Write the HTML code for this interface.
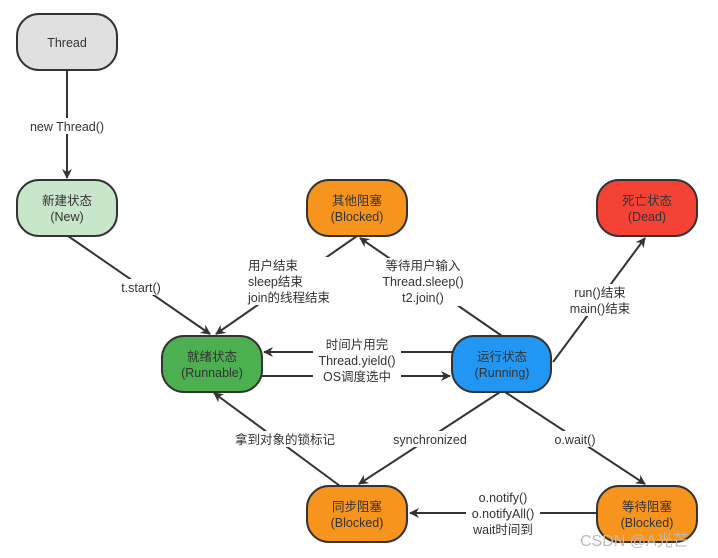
<!DOCTYPE html>
<html><head><meta charset="utf-8"><style>
body{margin:0;background:#fff}
svg{display:block}
text{font-family:"Liberation Sans","Noto Sans CJK SC",sans-serif;font-size:12.5px;fill:#333}
</style></head><body>
<svg width="718" height="558" viewBox="0 0 718 558" xmlns="http://www.w3.org/2000/svg">
<defs><marker id="a" markerWidth="10" markerHeight="10" refX="9" refY="5" orient="auto" markerUnits="userSpaceOnUse"><path d="M0,0 L10,5 L0,10 L3,5 z" fill="#333"/></marker></defs>
<g stroke="#333" stroke-width="2" fill="none">
<line x1="67" y1="70" x2="67" y2="178" marker-end="url(#a)"/>
<line x1="68" y1="236" x2="210" y2="334" marker-end="url(#a)"/>
<line x1="357" y1="236" x2="216" y2="334" marker-end="url(#a)"/>
<line x1="502" y1="336" x2="360" y2="238" marker-end="url(#a)"/>
<line x1="553" y1="362" x2="645" y2="238" marker-end="url(#a)"/>
<line x1="452" y1="352" x2="264" y2="352" marker-end="url(#a)"/>
<line x1="262" y1="376" x2="450" y2="376" marker-end="url(#a)"/>
<line x1="500" y1="392" x2="359" y2="484" marker-end="url(#a)"/>
<line x1="505" y1="392" x2="645" y2="484" marker-end="url(#a)"/>
<line x1="340" y1="486" x2="214" y2="393" marker-end="url(#a)"/>
<line x1="597" y1="513" x2="410" y2="513" marker-end="url(#a)"/>
</g>
<g fill="#fff">
<rect x="25" y="118" width="86" height="16"/>
<rect x="115" y="279" width="52" height="16"/>
<rect x="245" y="257" width="92" height="48"/>
<rect x="378" y="258" width="90" height="48"/>
<rect x="568" y="284" width="66" height="32"/>
<rect x="313" y="336" width="88" height="48"/>
<rect x="230" y="431" width="110" height="16"/>
<rect x="388" y="431" width="84" height="16"/>
<rect x="550" y="431" width="50" height="16"/>
<rect x="466" y="489" width="74" height="48"/>
</g>
<g stroke="#333" stroke-width="2">
<rect x="17" y="14" width="100" height="56" rx="22" fill="#e0e0e0"/>
<rect x="17" y="180" width="100" height="56" rx="22" fill="#c8e6c9"/>
<rect x="307" y="180" width="100" height="56" rx="22" fill="#f7941d"/>
<rect x="597" y="180" width="100" height="56" rx="22" fill="#f44336"/>
<rect x="162" y="336" width="100" height="56" rx="22" fill="#4caf50"/>
<rect x="452" y="336" width="99" height="56" rx="22" fill="#2196f3"/>
<rect x="307" y="486" width="100" height="56" rx="22" fill="#f7941d"/>
<rect x="597" y="486" width="100" height="56" rx="22" fill="#f7941d"/>
</g>
<g text-anchor="middle">
<text x="67" y="47">Thread</text>
<text x="67" y="205">新建状态</text><text x="67" y="221">(New)</text>
<text x="357" y="205">其他阻塞</text><text x="357" y="221">(Blocked)</text>
<text x="647" y="205">死亡状态</text><text x="647" y="221">(Dead)</text>
<text x="212" y="361">就绪状态</text><text x="212" y="377">(Runnable)</text>
<text x="502" y="361">运行状态</text><text x="502" y="377">(Running)</text>
<text x="357" y="511">同步阻塞</text><text x="357" y="527">(Blocked)</text>
<text x="647" y="511">等待阻塞</text><text x="647" y="527">(Blocked)</text>
<text x="67" y="131">new Thread()</text>
<text x="141" y="292">t.start()</text>
<text x="423" y="270">等待用户输入</text><text x="423" y="286">Thread.sleep()</text><text x="423" y="302">t2.join()</text>
<text x="600" y="297">run()结束</text><text x="600" y="313">main()结束</text>
<text x="357" y="349">时间片用完</text><text x="357" y="365">Thread.yield()</text><text x="357" y="381">OS调度选中</text>
<text x="285" y="444">拿到对象的锁标记</text>
<text x="430" y="444">synchronized</text>
<text x="575" y="444">o.wait()</text>
<text x="503" y="502">o.notify()</text><text x="503" y="518">o.notifyAll()</text><text x="503" y="534">wait时间到</text>
</g>
<text x="248" y="270">用户结束</text><text x="248" y="286">sleep结束</text><text x="248" y="302">join的线程结束</text>
<text x="580" y="546" style="font-size:16px;fill:#bbb">CSDN @A光芒</text>
</svg>
</body></html>
